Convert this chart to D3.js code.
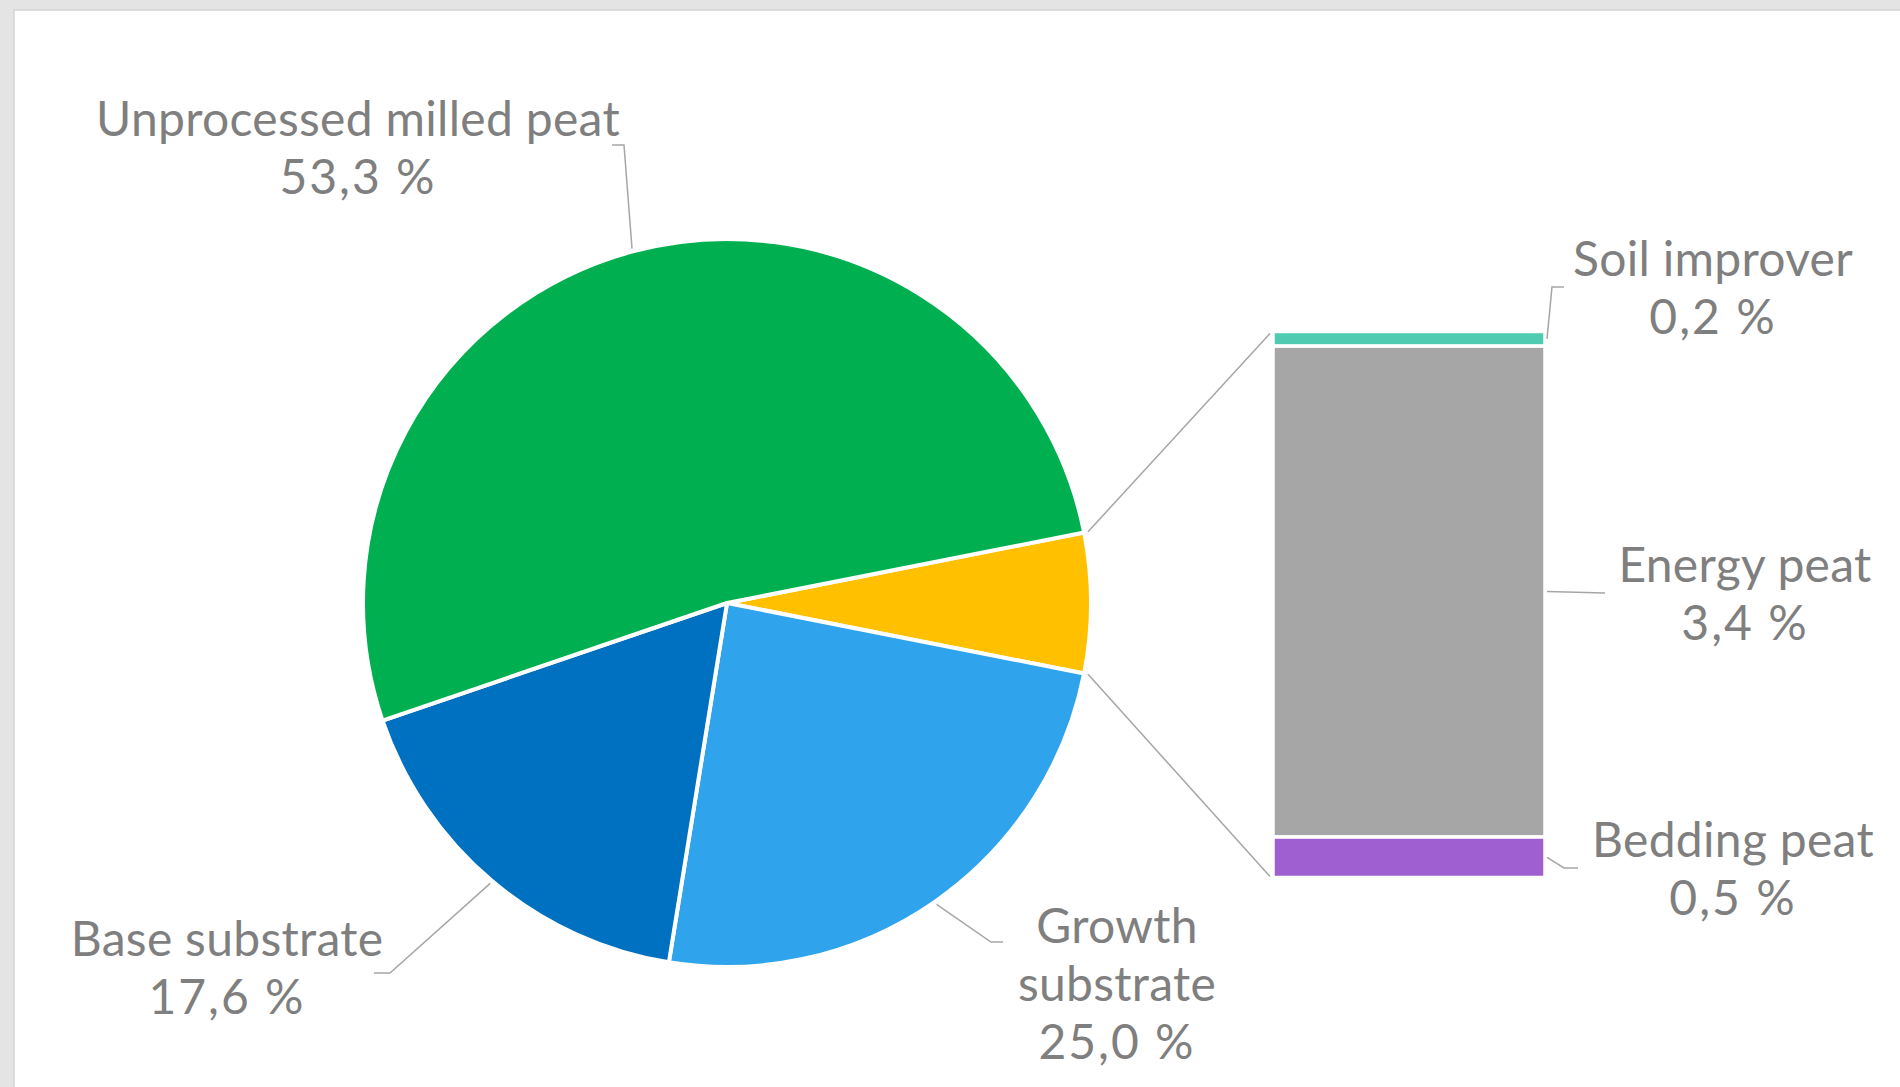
<!DOCTYPE html>
<html>
<head>
<meta charset="utf-8">
<script src="https://cdn.jsdelivr.net/npm/d3@7/dist/d3.min.js"></script>
<style>
  html, body { margin: 0; padding: 0; background: #ffffff; }
  svg { display: block; }
</style>
</head>
<body>
<svg id="chart" width="1900" height="1087"></svg>
<script>
// ---------- data ----------
const pieCategories = ["Other", "Growth substrate", "Base substrate", "Unprocessed milled peat"];
const pieValues     = [null, 25.0, 17.6, 53.3];           // "Other" = sum of bar values
const barCategories = ["Soil improver", "Energy peat", "Bedding peat"];
const barValues     = [0.17, 5.7, 0.47];
const labelTexts = {
  "Unprocessed milled peat": ["Unprocessed milled peat", "53,3 %"],
  "Base substrate": ["Base substrate", "17,6 %"],
  "Growth substrate": ["Growth", "substrate", "25,0 %"],
  "Soil improver": ["Soil improver", "0,2 %"],
  "Energy peat": ["Energy peat", "3,4 %"],
  "Bedding peat": ["Bedding peat", "0,5 %"]
};

// ---------- styles / layout ----------
const colors = {
  "Other": "#ffc000",
  "Growth substrate": "#2fa3ec",
  "Base substrate": "#0070c0",
  "Unprocessed milled peat": "#00b050",
  "Soil improver": "#4ecbb0",
  "Energy peat": "#a6a6a6",
  "Bedding peat": "#a05fd0"
};
const textColor = "#7f7f7f";
const leaderColor = "#a6a6a6";
const fontFamily = "Lato, 'Open Sans', sans-serif";
const cx = 727, cy = 603, R = 364;
const bar = { x0: 1273, x1: 1545, yTop: 331.5, yBottom: 877.5 };
const lineGap = 58;
const labelLayout = {
  "Unprocessed milled peat": { x: 358, y: 136, elbow: [[624, 145], [612, 145]] },
  "Base substrate":          { x: 227, y: 956, elbow: [[390, 973], [374, 973]] },
  "Growth substrate":        { x: 1117, y: 943, elbow: [[991, 942], [1003, 942]] },
  "Soil improver":           { x: 1713, y: 276, elbow: [[1552, 287], [1564, 287]] },
  "Energy peat":             { x: 1745, y: 582, elbow: [[1605, 593]] },
  "Bedding peat":            { x: 1733, y: 857, elbow: [[1564, 868], [1578, 868]] }
};

const svg = d3.select("#chart");

// background frame
svg.append("rect").attr("x", 0).attr("y", 0).attr("width", 1900).attr("height", 1087).attr("fill", "#e4e4e4");
svg.append("rect").attr("x", 14).attr("y", 10).attr("width", 1900).attr("height", 1100)
  .attr("fill", "#ffffff").attr("stroke", "#d4d4d4").attr("stroke-width", 1.5);

// ---------- pie ----------
const otherTotal = d3.sum(barValues);
const pieData = pieCategories.map((c, i) => ({ name: c, value: c === "Other" ? otherTotal : pieValues[i] }));
const total = d3.sum(pieData, d => d.value);
const otherAngle = otherTotal / total * 2 * Math.PI;
const start = Math.PI / 2 - otherAngle / 2;
const pie = d3.pie().sort(null).value(d => d.value).startAngle(start).endAngle(start + 2 * Math.PI);
const arcs = pie(pieData);
const arc = d3.arc().innerRadius(0).outerRadius(R);

const g = svg.append("g").attr("transform", `translate(${cx},${cy})`);
g.selectAll("path").data(arcs).join("path")
  .attr("d", arc)
  .attr("fill", d => colors[d.data.name])
  .attr("stroke", "#ffffff").attr("stroke-width", 4).attr("stroke-linejoin", "round");

// ---------- stacked bar ----------
const y = d3.scaleLinear().domain([0, otherTotal]).range([bar.yTop, bar.yBottom]);
const cum = d3.cumsum(barValues);
const barData = barCategories.map((c, i) => ({ name: c, y0: cum[i] - barValues[i], y1: cum[i] }));
svg.selectAll("rect.seg").data(barData).join("rect").attr("class", "seg")
  .attr("x", bar.x0).attr("width", bar.x1 - bar.x0)
  .attr("y", d => y(d.y0)).attr("height", d => y(d.y1) - y(d.y0))
  .attr("fill", d => colors[d.name])
  .attr("stroke", "#ffffff").attr("stroke-width", 3.5);

// connector lines between pie slice and bar
const otherArc = arcs[0];
function polar(a, r) { return [cx + r * Math.sin(a), cy - r * Math.cos(a)]; }
const p1 = polar(otherArc.startAngle, R + 4);
const p2 = polar(otherArc.endAngle, R + 4);
svg.append("line").attr("x1", p1[0]).attr("y1", p1[1]).attr("x2", bar.x0 - 3).attr("y2", y(0) + 2)
  .attr("stroke", leaderColor).attr("stroke-width", 1.5);
svg.append("line").attr("x1", p2[0]).attr("y1", p2[1]).attr("x2", bar.x0 - 3).attr("y2", y(otherTotal) - 1)
  .attr("stroke", leaderColor).attr("stroke-width", 1.5);

// ---------- leader lines ----------
const leaders = [];
arcs.filter(d => d.data.name !== "Other").forEach(d => {
  const mid = (d.startAngle + d.endAngle) / 2;
  leaders.push([polar(mid, R + 3)].concat(labelLayout[d.data.name].elbow));
});
barData.forEach(d => {
  leaders.push([[bar.x1 + 2, (y(d.y0) + y(d.y1)) / 2]].concat(labelLayout[d.name].elbow));
});
svg.selectAll("path.leader").data(leaders).join("path").attr("class", "leader")
  .attr("d", d => d3.line()(d))
  .attr("fill", "none").attr("stroke", leaderColor).attr("stroke-width", 1.5);

// ---------- labels ----------
// fit font size so the longest label matches reference width (522px)
const probe = svg.append("text").attr("font-family", fontFamily).attr("font-size", 100).text("Unprocessed milled peat");
const w100 = probe.node().getComputedTextLength();
probe.remove();
const fontSize = Math.min(48, 100 * 522 / w100);

Object.keys(labelTexts).forEach(name => {
  const L = labelLayout[name];
  const t = svg.append("text")
    .attr("font-family", fontFamily).attr("font-size", fontSize)
    .attr("fill", textColor).attr("text-anchor", "middle");
  labelTexts[name].forEach((line, i) => {
    const isPct = /%$/.test(line);
    t.append("tspan").attr("x", L.x).attr("y", L.y + i * lineGap)
      .attr("letter-spacing", isPct ? 2 : 0.3)
      .text(line);
  });
});
</script>
</body>
</html>
